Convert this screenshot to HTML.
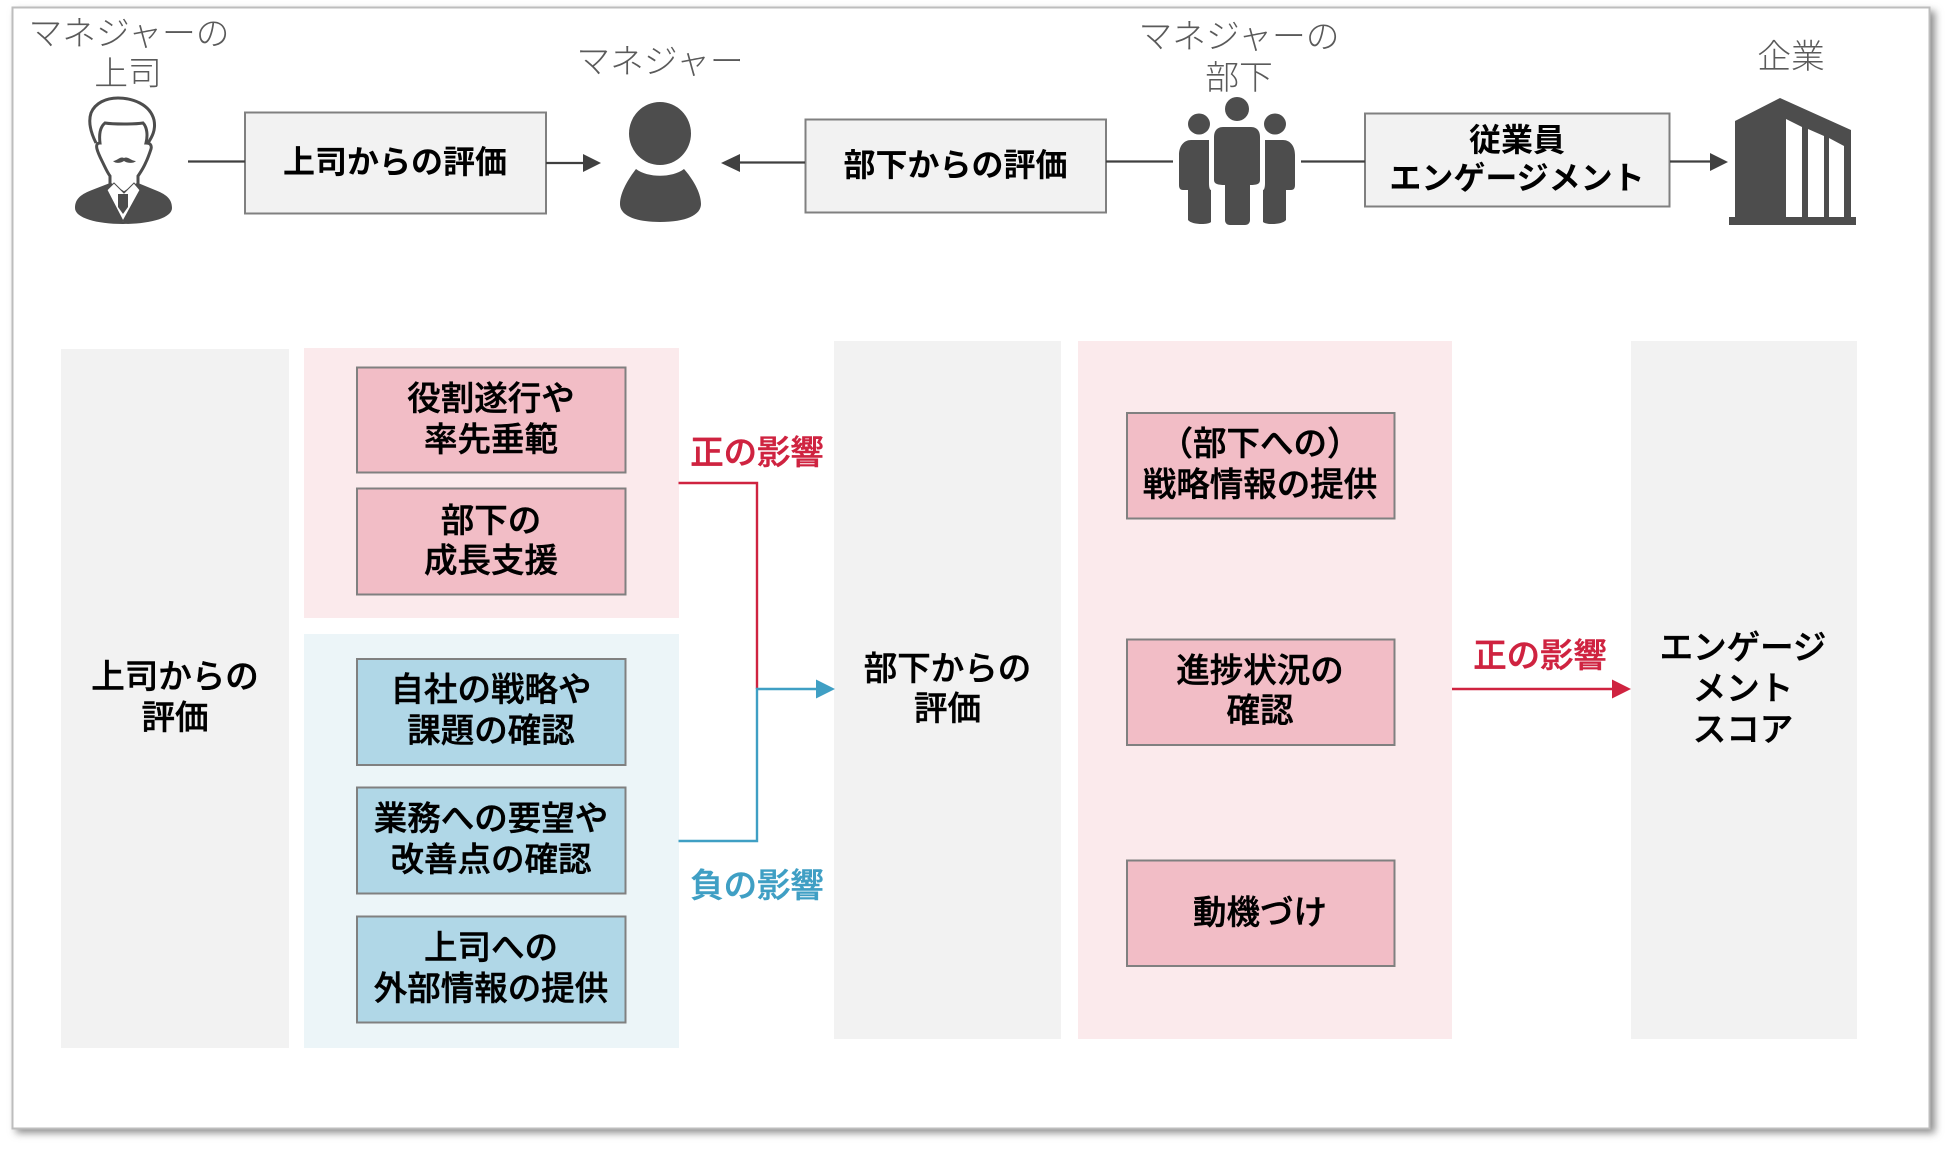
<!DOCTYPE html>
<html lang="ja">
<head>
<meta charset="utf-8">
<style>
html,body{margin:0;padding:0;background:#fff;width:1950px;height:1150px;overflow:hidden}
svg{display:block;position:absolute;left:0;top:0}
text{font-family:"Liberation Sans","Noto Sans CJK JP",sans-serif;text-anchor:middle}
.l{font-size:33.8px;font-weight:300;fill:#5a5a5a}
.b{font-size:32px;font-weight:700;fill:#000}
.m{font-size:33.5px;font-weight:500;fill:#000;stroke:#000;stroke-width:.5px}
.r{font-size:33.4px;font-weight:500;fill:#cf2340;stroke:#cf2340;stroke-width:.5px}
.c{font-size:33.4px;font-weight:500;fill:#3f9fc4;stroke:#3f9fc4;stroke-width:.5px}
.box{stroke:#808080;stroke-width:2}
</style>
</head>
<body>
<svg width="1950" height="1150" viewBox="0 0 1950 1150" xmlns="http://www.w3.org/2000/svg">
<defs>
<filter id="sh" x="-2%" y="-2%" width="104%" height="104%">
<feGaussianBlur stdDeviation="4"/>
</filter>
</defs>
<rect x="16" y="11" width="1919" height="1122" fill="#8c8c8c" filter="url(#sh)"/>
<rect x="12.5" y="7.5" width="1917" height="1121" fill="#fff" stroke="#bdbdbd" stroke-width="2"/>

<!-- top boxes -->
<rect class="box" x="245" y="112.5" width="301" height="101" fill="#f2f2f2"/>
<rect class="box" x="805.5" y="119.5" width="300.500" height="93" fill="#f2f2f2"/>
<rect class="box" x="1365" y="113.5" width="304.500" height="93" fill="#f2f2f2"/>

<!-- top lines -->
<g stroke="#404040" stroke-width="2.2" fill="none">
<path d="M188 161.500H245"/>
<path d="M546 163H585"/>
<path d="M740 162.500H805"/>
<path d="M1106 161.500H1173"/>
<path d="M1301 161.500H1365"/>
<path d="M1670 161.500H1712"/>
</g>
<g fill="#404040">
<path d="M583 154L601 163L583 172Z"/>
<path d="M740 154L721 163L740 172Z"/>
<path d="M1710 153L1728 162L1710 171Z"/>
</g>

<!-- boss icon -->
<g>
<path d="M75 208C75 198 82 194 92 190L110 183L123 222L138 183L155 190C165 194 172 198 172 208C172 218 150 224 123 224C97 224 75 218 75 208Z" fill="#4d4d4d"/>
<path d="M96 143C91 133 88 122 91 113C95 103 106 98 118 98C132 98 150 104 154 120C156 130 152 137 148 143" fill="none" stroke="#4d4d4d" stroke-width="3"/>
<path d="M100 143C99 135 100 127 105 123C111 124 118 124 124 124C130 124 137 124 143 123C147 127 148 135 146 143C150 143 152 145 151 149C149 155 148 158 146 162C143 169 140 173 138 176V184L124 193L110 184V176C107 172 105 167 102 161C100 157 98 153 97 149C96 145 97 143 100 143Z" fill="#fff" stroke="#4d4d4d" stroke-width="3"/>
<path d="M113 161C117 161 120 156 124 158C128 156 131 161 136 161C133 164 127 163 124 161C121 163 116 164 113 161Z" fill="#4d4d4d"/>
<path d="M107 190L123 221L140 190L134 183L124 193L114 183Z" fill="#fff" stroke="#4d4d4d" stroke-width="1"/>
<path d="M118 194H128V207L123 214L118 207Z" fill="#4d4d4d"/>
</g>

<!-- person -->
<ellipse cx="660" cy="133.500" rx="31" ry="31.500" fill="#4d4d4d"/>
<path d="M636 169C648 178 672 178 684 169C692 178 701 192 701 204C701 215 686 222 660 222C634 222 620 215 620 204C620 192 629 178 636 169Z" fill="#4d4d4d"/>

<!-- group -->
<g fill="#4d4d4d">
<ellipse cx="1237" cy="109" rx="12" ry="12"/>
<ellipse cx="1199" cy="124" rx="11" ry="10.500"/>
<ellipse cx="1275" cy="124" rx="11" ry="10.500"/>
<path d="M1223 127H1251C1257 127 1260 131 1260 137V180C1260 184 1257 185 1250 185V220C1250 223 1248 225 1245 225H1230C1227 225 1225 223 1225 220V185C1218 185 1214 184 1214 180V137C1214 131 1217 127 1223 127Z"/>
<path d="M1209 140V183C1209 188 1210 190 1211 190V222C1208 225 1192 225 1188 220V190H1183C1180 190 1179 188 1179 185V155C1179 146 1184 140 1191 140Z"/>
<path d="M1265 140V183C1265 188 1264 190 1263 190V222C1266 225 1282 225 1286 220V190H1291C1294 190 1295 188 1295 185V155C1295 146 1290 140 1283 140Z"/>
</g>

<!-- building -->
<path d="M1735 121L1780 98L1851 130V217H1856V225H1729V217H1735Z" fill="#4d4d4d"/>
<path d="M1786 119L1802 127V217H1786ZM1808 129L1824 136V217H1808ZM1829 138L1844 146V217H1829Z" fill="#fff"/>

<!-- top labels -->
<text class="l" x="129" y="45">マネジャーの</text>
<text class="l" x="128" y="85">上司</text>
<text class="l" x="660" y="73">マネジャー</text>
<text class="l" x="1239" y="48">マネジャーの</text>
<text class="l" x="1239" y="89">部下</text>
<text class="l" x="1791" y="68">企業</text>

<text class="b" x="395" y="173">上司からの評価</text>
<text class="b" x="955.500" y="176">部下からの評価</text>
<text class="b" x="1517" y="151">従業員</text>
<text class="b" x="1517" y="189">エンゲージメント</text>

<!-- lower panels -->
<rect x="61" y="349" width="228" height="699" fill="#f2f2f2"/>
<rect x="304" y="348" width="375" height="270" fill="#fbeaec"/>
<rect x="304" y="634" width="375" height="414" fill="#ecf5f8"/>
<rect x="834" y="341" width="227" height="698" fill="#f2f2f2"/>
<rect x="1078" y="341" width="374" height="698" fill="#fbeaec"/>
<rect x="1631" y="341" width="226" height="698" fill="#f2f2f2"/>

<!-- pink boxes -->
<g fill="#f2bdc6">
<rect class="box" x="357" y="367.500" width="268.500" height="105"/>
<rect class="box" x="357" y="488.500" width="268.500" height="106"/>
<rect class="box" x="1127" y="413" width="267.500" height="105.500"/>
<rect class="box" x="1127" y="639.500" width="267.500" height="105.500"/>
<rect class="box" x="1127" y="860.500" width="267.500" height="105.500"/>
</g>
<g fill="#b0d7e7">
<rect class="box" x="357" y="659" width="268.500" height="106"/>
<rect class="box" x="357" y="787.500" width="268.500" height="106"/>
<rect class="box" x="357" y="916.500" width="268.500" height="106"/>
</g>

<!-- connectors -->
<path d="M678.500 483H757V689" fill="none" stroke="#cf2340" stroke-width="2.4"/>
<path d="M678.500 841H757V689H820" fill="none" stroke="#3f9fc4" stroke-width="2.4"/>
<path d="M816 679.500L835 689L816 698.500Z" fill="#3f9fc4"/>
<path d="M1452 689H1615" fill="none" stroke="#cf2340" stroke-width="2.4"/>
<path d="M1612 679.500L1631 689L1612 698.500Z" fill="#cf2340"/>

<!-- lower labels -->
<text class="m" x="175" y="688">上司からの</text>
<text class="m" x="175" y="729">評価</text>
<text class="m" x="491" y="410">役割遂行や</text>
<text class="m" x="491" y="451">率先垂範</text>
<text class="m" x="491" y="532">部下の</text>
<text class="m" x="491" y="572">成長支援</text>
<text class="m" x="491" y="701">自社の戦略や</text>
<text class="m" x="491" y="742">課題の確認</text>
<text class="m" x="491" y="830">業務への要望や</text>
<text class="m" x="491" y="871">改善点の確認</text>
<text class="m" x="491" y="959">上司への</text>
<text class="m" x="491" y="1000">外部情報の提供</text>
<text class="r" x="757" y="464">正の影響</text>
<text class="c" x="757" y="897">負の影響</text>
<text class="m" x="947.500" y="680">部下からの</text>
<text class="m" x="947.500" y="720">評価</text>
<text class="m" x="1260" y="455">（部下への）</text>
<text class="m" x="1260" y="496">戦略情報の提供</text>
<text class="m" x="1260" y="682">進捗状況の</text>
<text class="m" x="1260" y="722">確認</text>
<text class="m" x="1260" y="924">動機づけ</text>
<text class="r" x="1540" y="667">正の影響</text>
<text class="m" x="1743" y="659">エンゲージ</text>
<text class="m" x="1743" y="700">メント</text>
<text class="m" x="1743" y="741">スコア</text>
</svg>
</body>
</html>
